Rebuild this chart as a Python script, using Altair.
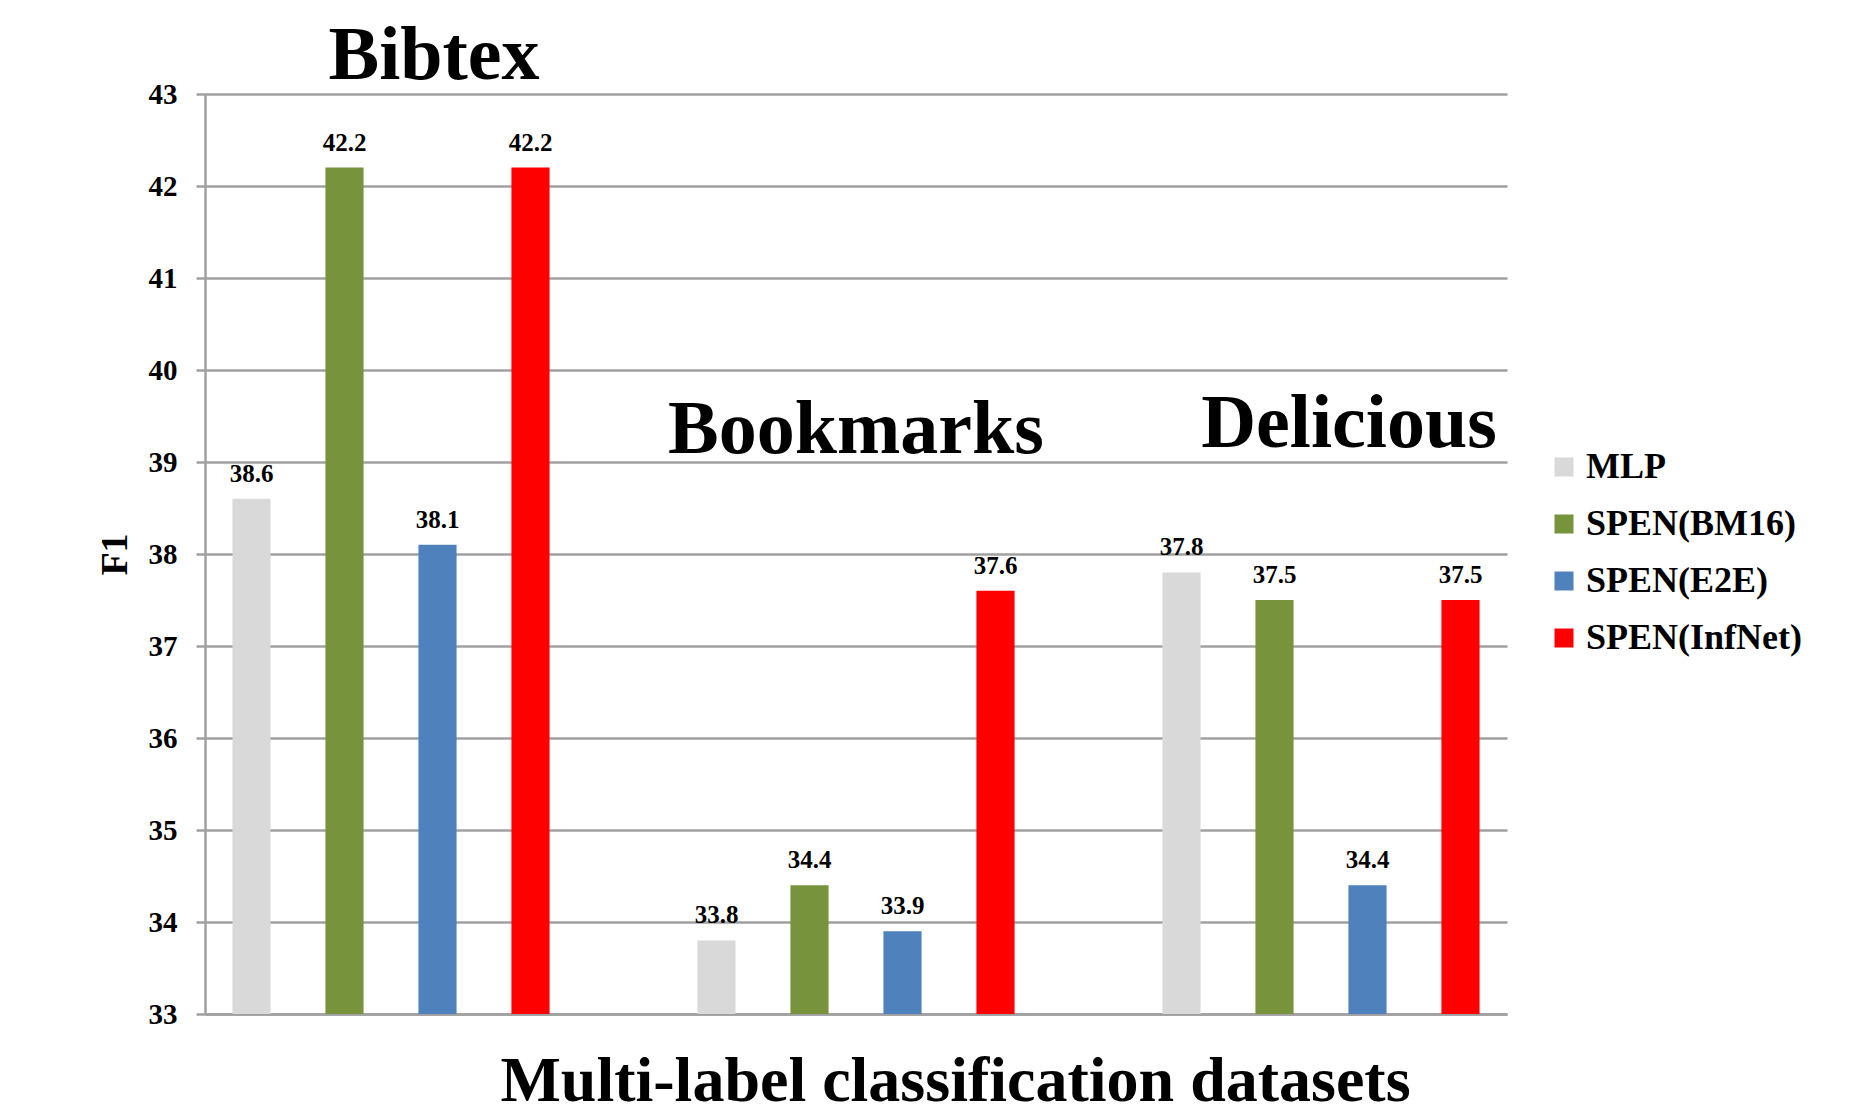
import altair as alt
import pandas as pd

datasets = ["Bibtex", "Bookmarks", "Delicious"]
methods = ["MLP", "SPEN(BM16)", "SPEN(E2E)", "SPEN(InfNet)"]
colors = ["#D9D9D9", "#77933C", "#4F81BD", "#FF0000"]
mlp = [38.6, 33.8, 37.8]
bm16 = [42.2, 34.4, 37.5]
e2e = [38.1, 33.9, 34.4]
infnet = [42.2, 37.6, 37.5]

values = {"MLP": mlp, "SPEN(BM16)": bm16, "SPEN(E2E)": e2e, "SPEN(InfNet)": infnet}
rows = []
for m in methods:
    for d, v in zip(datasets, values[m]):
        rows.append({"dataset": d, "method": m, "f1": v})
df = pd.DataFrame(rows)

FONT = "Liberation Serif"

x_enc = alt.X("dataset:N", sort=datasets,
              scale=alt.Scale(paddingInner=0.2, paddingOuter=0),
              axis=alt.Axis(labels=False, ticks=False, domainColor="#A0A0A0", domainWidth=2.5,
                            title="Multi-label classification datasets", titleFont=FONT,
                            titleFontSize=64, titleFontWeight="bold", titleColor="black",
                            titleX=750, titleY=86, titleBaseline="alphabetic"))
xo_enc = alt.XOffset("method:N", sort=methods,
                     scale=alt.Scale(paddingInner=0.59, paddingOuter=0.295))
y_enc = alt.Y("f1:Q", scale=alt.Scale(domain=[33, 43], zero=False, nice=False),
              axis=alt.Axis(values=list(range(33, 44)), format="d", grid=True, gridColor="#A0A0A0",
                            gridWidth=2.5, domainColor="#A0A0A0", domainWidth=2.5,
                            tickColor="#A0A0A0", tickWidth=2.5, tickSize=9,
                            labelFont=FONT, labelFontSize=29, labelFontWeight="bold",
                            labelColor="black", labelPadding=19,
                            title="F1", titleFont=FONT, titleFontSize=38,
                            titleFontWeight="bold", titleColor="black", titlePadding=14))

base = alt.Chart(df)
bars = base.mark_bar().encode(
    x=x_enc, xOffset=xo_enc, y=y_enc, y2=alt.datum(33),
    color=alt.Color("method:N", sort=methods,
                    scale=alt.Scale(domain=methods, range=colors),
                    legend=alt.Legend(orient="none", legendX=1341, legendY=355, title=None,
                                      symbolType="square", symbolSize=361, symbolStrokeWidth=0,
                                      labelFont=FONT, labelFontSize=36, labelFontWeight="bold",
                                      labelColor="black", rowPadding=21, labelOffset=4,
                                      labelLimit=0)))
labels = base.mark_text(baseline="alphabetic", dy=-17, font=FONT, fontSize=25,
                        fontWeight="bold", color="black").encode(
    x=alt.X("dataset:N", sort=datasets), xOffset=alt.XOffset("method:N", sort=methods),
    y="f1:Q", text=alt.Text("f1:Q", format=".1f"))

title_specs = [("Bibtex", 43.16, 43), ("Bookmarks", 39.1, 0), ("Delicious", 39.16, 28)]
titles = []
for name, yv, dx in title_specs:
    titles.append(alt.Chart(pd.DataFrame({"t": [name]})).mark_text(
        font=FONT, fontSize=76, fontWeight="bold", color="black",
        baseline="alphabetic", align="center", dx=dx).encode(
        x=alt.datum(name), y=alt.datum(yv), text="t:N"))

chart = alt.layer(bars, labels, *titles).properties(
    width=1302, height=920,
    autosize=alt.AutoSizeParams(type="none"),
    padding={"left": 205, "top": 94, "right": 364, "bottom": 100},
).configure_view(stroke=None)

chart.save("out.html", embed_options={"renderer": "svg", "actions": False})
